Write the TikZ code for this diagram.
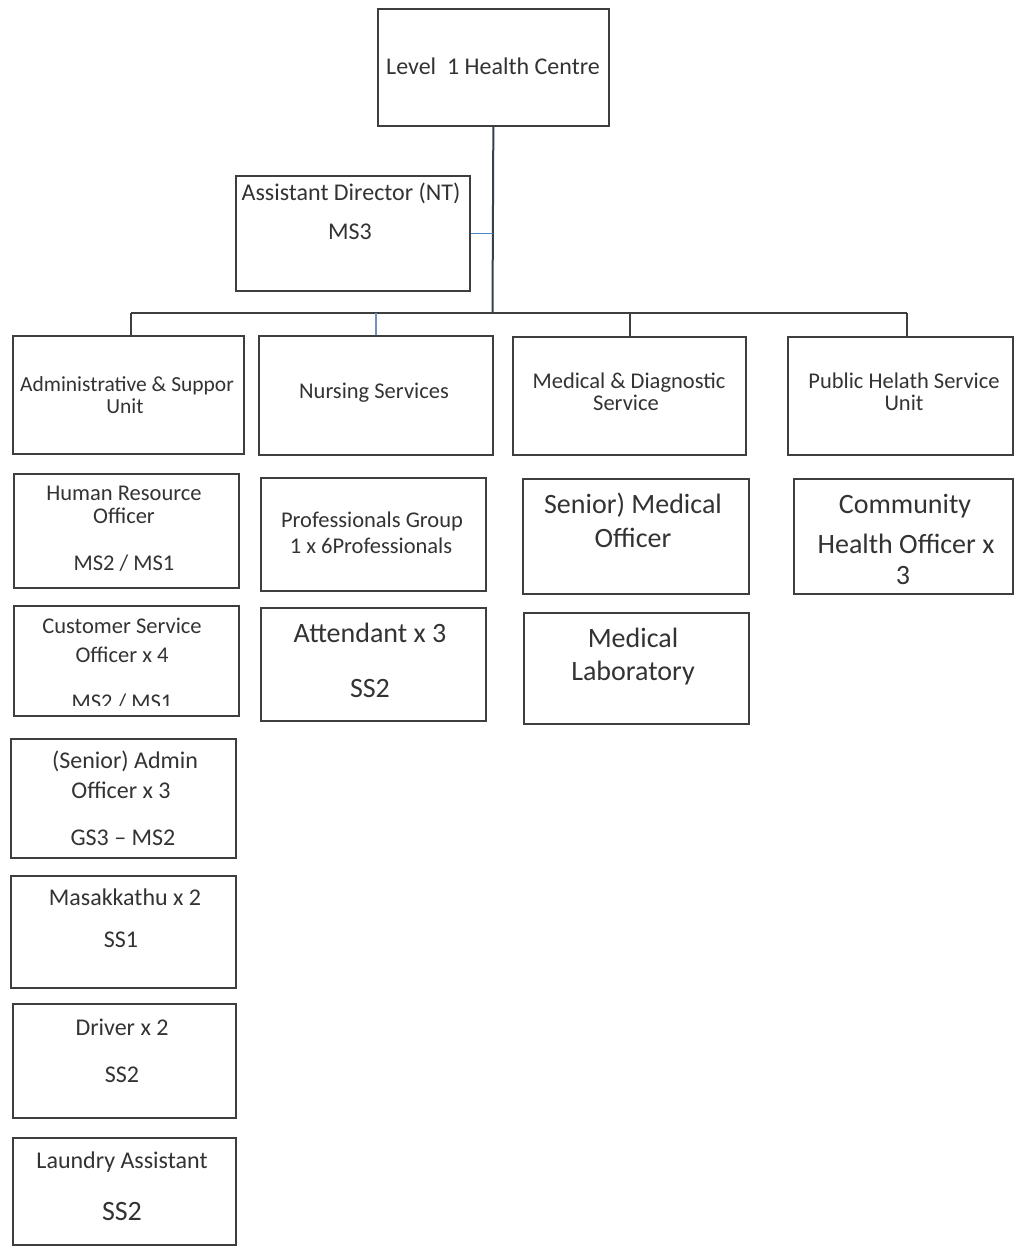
\documentclass[tikz,border=0pt]{standalone}
\usepackage{fontspec}
\setmainfont{Carlito}
\definecolor{boxc}{HTML}{3E3E3E}
\definecolor{textc}{HTML}{333333}
\definecolor{vline}{HTML}{33414F}
\definecolor{stubc}{HTML}{4A86C8}
\definecolor{nurc}{HTML}{6F93BC}
\begin{document}
\begin{tikzpicture}[x=1pt,y=-1pt,
  orgbox/.style={draw=boxc,line width=1.7pt,inner sep=0pt,anchor=north west},
  txt/.style={inner sep=0pt,anchor=base,text=textc},
  fs/.style={font=\fontsize{21.5}{23}\selectfont},
  fa/.style={font=\fontsize{22.5}{24}\selectfont},
  fb/.style={font=\fontsize{24}{26}\selectfont},
  fc/.style={font=\fontsize{28}{30}\selectfont},
  conn/.style={draw=boxc,line width=1.7pt}]
\useasboundingbox[fill=white] (0,0) rectangle (1013,1246);

% boxes
\node[orgbox,minimum width=231pt,minimum height=117pt] (top) at (377,8) {};
\node[orgbox,minimum width=234pt,minimum height=115pt] (ad) at (235,175) {};
\node[orgbox,minimum width=231pt,minimum height=118pt] (admin) at (12,335) {};
\node[orgbox,minimum width=234pt,minimum height=119pt] (nurs) at (258,335) {};
\node[orgbox,minimum width=233pt,minimum height=118pt] (med) at (512,336) {};
\node[orgbox,minimum width=225pt,minimum height=118pt] (pub) at (787,336) {};

\node[orgbox,minimum width=225pt,minimum height=114pt] (hr) at (13,473) {};
\node[orgbox,minimum width=225pt,minimum height=110pt] (cso) at (13,605) {};
\node[orgbox,minimum width=225pt,minimum height=119pt] (sao) at (10,738) {};
\node[orgbox,minimum width=225pt,minimum height=112pt] (mas) at (10,875) {};
\node[orgbox,minimum width=223pt,minimum height=114pt] (drv) at (12,1003) {};
\node[orgbox,minimum width=223pt,minimum height=107pt] (lau) at (12,1137) {};

\node[orgbox,minimum width=225pt,minimum height=113pt] (prof) at (260,477) {};
\node[orgbox,minimum width=225pt,minimum height=113pt] (att) at (260,607) {};

\node[orgbox,minimum width=226pt,minimum height=115pt] (smo) at (522,478) {};
\node[orgbox,minimum width=225pt,minimum height=111pt] (lab) at (523,612) {};

\node[orgbox,minimum width=219pt,minimum height=115pt] (cho) at (793,478) {};

% connectors
\coordinate (bus) at (492.5,313);
\coordinate (dA) at (131,313);
\coordinate (dN) at (376,313);
\coordinate (dM) at (630,313);
\coordinate (dP) at (907,313);
\draw[draw=vline,line width=2pt] (top.south) -- (bus);
\draw[draw=stubc,line width=1.6pt] (ad.east) -- (ad.east -| bus);
\draw[conn] (dA) -- (dP);
\draw[conn] (dA) -- (dA |- admin.north);
\draw[draw=nurc,line width=1.4pt] (dN) -- (dN |- nurs.north);
\draw[conn] (dM) -- (dM |- med.north);
\draw[conn] (dP) -- (dP |- pub.north);

% texts
\node[txt,fb] (t-top) at (493,75) {Level\ \ 1 Health Centre};
\node[txt,fb] (t-ad1) at (351,201) {Assistant Director (NT)};
\node[txt,fb] (t-ad2) at (350,240) {MS3};

\node[txt,fs] (t-adm1) at (127,391) {Administrative \& Suppor};
\node[txt,fs] (t-adm2) at (125,413) {Unit};
\node[txt,fa] (t-nur) at (374,398) {Nursing Services};
\node[txt,fa] (t-med1) at (629,388) {Medical \& Diagnostic};
\node[txt,fa] (t-med2) at (626,410) {Service};
\node[txt,fa] (t-pub1) at (904,388) {Public Helath Service};
\node[txt,fa] (t-pub2) at (904,410) {Unit};

\node[txt,fa] (t-hr1) at (124,500) {Human Resource};
\node[txt,fa] (t-hr2) at (124,523) {Officer};
\node[txt,fa] (t-hr3) at (124,570) {MS2 / MS1};
\node[txt,fa] (t-cs1) at (122,633) {Customer Service};
\node[txt,fa] (t-cs2) at (122,662) {Officer x 4};
\begin{scope}
\clip (14,600) rectangle (237,705);
\node[txt,fa] (t-cs3) at (122,709) {MS2 / MS1};
\end{scope}
\node[txt,fb] (t-sa1) at (125,768) {(Senior) Admin};
\node[txt,fb] (t-sa2) at (121,798) {Officer x 3};
\node[txt,fb] (t-sa3) at (123,845) {GS3 – MS2};
\node[txt,fb] (t-ma1) at (125,905) {Masakkathu x 2};
\node[txt,fb] (t-ma2) at (121,947) {SS1};
\node[txt,fb] (t-dr1) at (122,1035) {Driver x 2};
\node[txt,fb] (t-dr2) at (122,1082) {SS2};
\node[txt,fb] (t-la1) at (122,1168) {Laundry Assistant};
\node[txt,fc] (t-la2) at (122,1220) {SS2};

\node[txt,fa] (t-pr1) at (372,527) {Professionals Group};
\node[txt,fa] (t-pr2) at (371,553) {1 x 6Professionals};
\node[txt,fc] (t-at1) at (370,642) {Attendant x 3};
\node[txt,fc] (t-at2) at (370,697) {SS2};

\node[txt,fc] (t-sm1) at (633,513) {Senior) Medical};
\node[txt,fc] (t-sm2) at (633,547) {Officer};
\node[txt,fc] (t-lb1) at (633,647) {Medical};
\node[txt,fc] (t-lb2) at (633,680) {Laboratory};

\node[txt,fc] (t-ch1) at (905,513) {Community};
\node[txt,fc] (t-ch2) at (906,553) {Health Officer x};
\node[txt,fc] (t-ch3) at (903,584) {3};
\end{tikzpicture}
\end{document}
